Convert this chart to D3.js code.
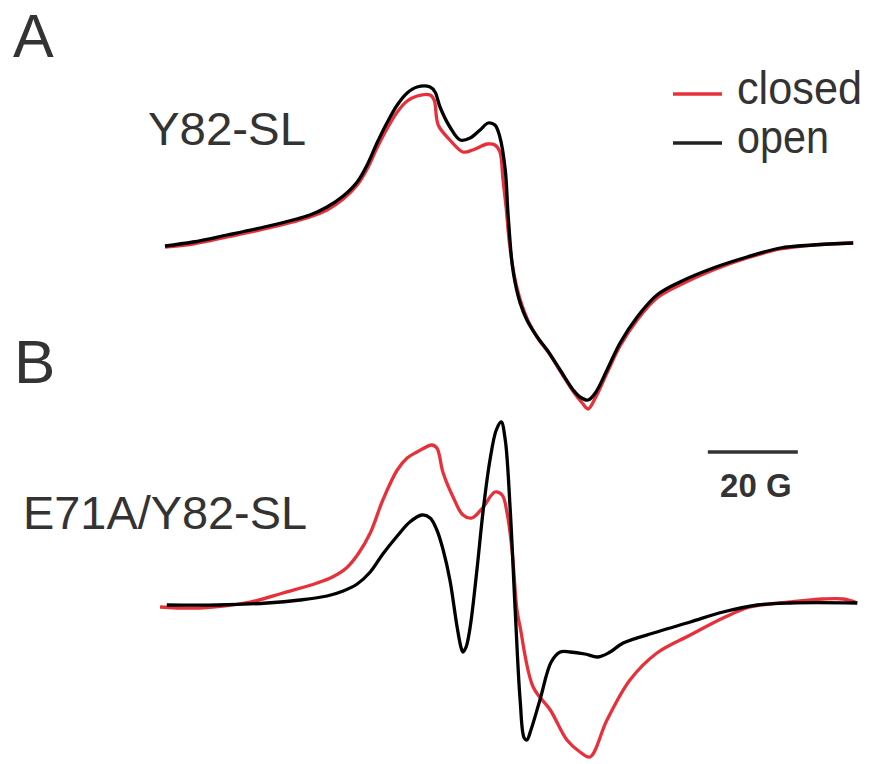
<!DOCTYPE html>
<html>
<head>
<meta charset="utf-8">
<script src="https://cdn.jsdelivr.net/npm/d3@7"></script>
<style>
  body { margin: 0; background: #fff; }
  text { font-family: "Liberation Sans", Arial, sans-serif; fill: #333; }
</style>
</head>
<body>
<div id="chart"></div>
<script>
// field offsets in gauss, amplitude in arbitrary units (derivative EPR spectra)
var openA = [[0,-3],[6.2,1],[13.8,8],[21.1,15],[28.4,23],[32.2,28],[36,36],[39.6,47],[42.7,61],[44.9,78],[47.1,100],[49.3,120],[51.6,138],[53.8,150],[56,156],[58.9,156],[60,151],[61.1,136],[63.3,116],[65.6,103],[67.8,105],[70,113],[71.8,120],[73.3,118],[74.4,106],[75.6,73],[76.2,30],[77.1,-20],[77.8,-40],[78.9,-60],[80.4,-77],[82.7,-94],[84.9,-107],[87.8,-127],[90.7,-147],[92.2,-154],[94,-157],[95.6,-150],[98.2,-127],[101.1,-100],[104.9,-74],[109.3,-52],[114.4,-39],[121.8,-25],[129.3,-14],[136.7,-5],[144,-2],[152.9,0]];
var closedA = [[0,-4],[6.2,-1],[13.8,6],[21.1,13],[28.4,21],[32.2,26],[36,33],[39.6,44],[42.7,58],[44.9,74],[47.1,95],[49.3,114],[51.6,131],[53.8,142],[56,147],[58.9,148],[59.8,143],[60.7,118],[63.3,103],[66.2,91],[68.4,93],[71.6,99],[73.3,98],[74.4,91],[75.1,63],[75.8,35],[76.4,5],[77.3,-25],[78.2,-45],[79.3,-62],[80.9,-80],[83.1,-97],[85.3,-110],[88.2,-131],[91.1,-151],[92.7,-160],[94,-166],[95.6,-155],[98.2,-130],[101.1,-103],[104.9,-77],[109.3,-55],[114.4,-42],[121.8,-27],[129.3,-15],[136.7,-6],[144,-2],[152.9,0]];
var openB = [[0.4,-1],[11.6,-1],[22.7,1],[30,4],[36,8],[39.6,13],[42.7,20],[45.6,32],[48.4,50],[51.6,68],[54.4,82],[57.1,89],[58.9,86],[60.4,74],[61.8,54],[63.3,24],[64.9,-23],[65.8,-44],[66.2,-48],[66.9,-43],[67.8,-23],[69.3,34],[70.7,94],[72.2,144],[73.6,174],[74.7,182],[75.6,164],[76.7,94],[77.8,-6],[78.9,-96],[79.8,-134],[80.4,-136],[81.3,-126],[83.3,-96],[85.8,-58],[87.8,-48],[90,-48],[93.3,-50],[96.2,-53],[98.9,-48],[101.8,-39],[109.3,-28],[116.7,-18],[124,-8],[131.6,-1],[138.9,1],[153.8,1]];
var closedB = [[-1.1,-3],[7.8,-4],[18.9,2],[26.2,11],[33.8,21],[37.2,27],[40.3,36],[42.9,50],[45.6,71],[48.4,104],[51.6,134],[53.8,146],[56,152],[59.3,159],[60.4,156],[61.8,131],[64,107],[66.2,89],[68.2,86],[70.7,97],[73.3,112],[74.9,109],[76,91],[77.1,54],[78.2,-6],[78.9,-23],[81.8,-83],[85.6,-106],[89.3,-136],[92.2,-148],[94.4,-153],[98.2,-116],[103.3,-76],[109.3,-49],[116.7,-31],[124,-14],[130,-3],[138.9,2],[146.2,5],[150.7,5],[153.8,1]];

var panelLabels = ["A", "B"];
var sampleLabels = ["Y82-SL", "E71A/Y82-SL"];
var legendLabels = ["closed", "open"];
var scaleBarGauss = 20;

var svgWidth = 874;
var svgHeight = 764;
var red = "#e8303a";

var svg = d3.select("#chart")
  .append("svg")
  .attr("width", svgWidth)
  .attr("height", svgHeight);

var xScale = d3.scaleLinear()
  .domain([0, 153.3])
  .range([165, 855]);

var yScaleA = d3.scaleLinear()
  .domain([-200, 200])
  .range([243 + 200, 243 - 200]);

var yScaleB = d3.scaleLinear()
  .domain([-200, 200])
  .range([604 + 200, 604 - 200]);

function drawSpectrum(data, yScale, color) {
  var line = d3.line()
    .x(d => xScale(d[0]))
    .y(d => yScale(d[1]))
    .curve(d3.curveCatmullRom.alpha(0.5));

  svg.append("path")
    .datum(data)
    .attr("d", line)
    .attr("fill", "none")
    .attr("stroke", color)
    .attr("stroke-width", 3.3)
    .attr("stroke-linejoin", "round");
}

// closed drawn first, open on top
drawSpectrum(closedA, yScaleA, red);
drawSpectrum(openA, yScaleA, "#000");
drawSpectrum(closedB, yScaleB, red);
drawSpectrum(openB, yScaleB, "#000");

// panel letters
svg.append("text")
  .attr("x", 13)
  .attr("y", 57)
  .style("font-size", "61px")
  .text(panelLabels[0]);

svg.append("text")
  .attr("x", 14)
  .attr("y", 383)
  .style("font-size", "62px")
  .text(panelLabels[1]);

// sample names
svg.append("text")
  .attr("x", 148)
  .attr("y", 145)
  .attr("textLength", 158)
  .attr("lengthAdjust", "spacingAndGlyphs")
  .style("font-size", "47px")
  .text(sampleLabels[0]);

svg.append("text")
  .attr("x", 23)
  .attr("y", 529)
  .attr("textLength", 284)
  .attr("lengthAdjust", "spacingAndGlyphs")
  .style("font-size", "47px")
  .text(sampleLabels[1]);

// legend
var legend = svg.append("g");
var legendColors = [red, "#222"];
var legendY = [94, 143];

legendLabels.forEach((label, i) => {
  legend.append("line")
    .attr("x1", 673)
    .attr("x2", 722)
    .attr("y1", legendY[i])
    .attr("y2", legendY[i])
    .attr("stroke", legendColors[i])
    .attr("stroke-width", 3.5);

  legend.append("text")
    .attr("x", 737)
    .attr("y", legendY[i] + 10)
    .attr("textLength", i == 0 ? 125 : 92)
    .attr("lengthAdjust", "spacingAndGlyphs")
    .style("font-size", "47px")
    .text(label);
});

// 20 G scale bar
var barStart = 120.6;
svg.append("line")
  .attr("x1", xScale(barStart))
  .attr("x2", xScale(barStart + scaleBarGauss))
  .attr("y1", 452)
  .attr("y2", 452)
  .attr("stroke", "#333")
  .attr("stroke-width", 3.5);

svg.append("text")
  .attr("x", xScale(barStart + scaleBarGauss / 2) + 3)
  .attr("y", 497)
  .attr("text-anchor", "middle")
  .style("font-size", "33px")
  .style("font-weight", "bold")
  .text(scaleBarGauss + " G");
</script>
</body>
</html>
